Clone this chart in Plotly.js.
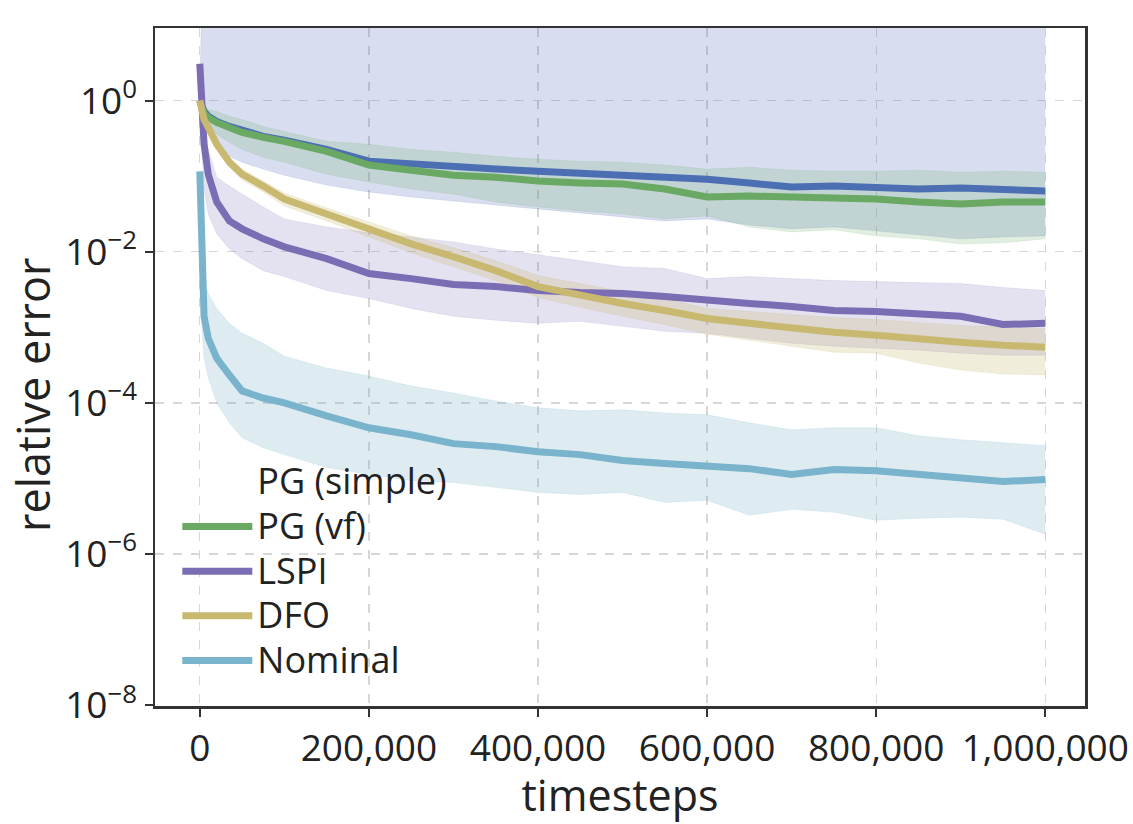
<!DOCTYPE html>
<html>
<head>
<meta charset="utf-8">
<script src="https://cdn.plot.ly/plotly-3.0.1.min.js"></script>
<style>
  html, body { margin: 0; padding: 0; background: #fff; }
  #chart { width: 1133px; height: 824px; }
</style>
</head>
<body>
<div id="chart"></div>
<script>
var steps = [0, 2500, 5000, 10000, 20000, 35000, 50000, 75000, 100000, 150000,
  200000, 250000, 300000, 350000, 400000, 450000, 500000, 550000, 600000, 650000,
  700000, 750000, 800000, 850000, 900000, 950000, 1000000];

// PG (simple)
var pgSimple = [1.0, 0.81, 0.72, 0.62, 0.53, 0.455, 0.40, 0.336, 0.298, 0.226,
  0.158, 0.144, 0.131, 0.124, 0.116, 0.109, 0.100, 0.094, 0.091, 0.081,
  0.0717, 0.0738, 0.0717, 0.0675, 0.0695, 0.0655, 0.0635];
var pgSimpleLo = [1.0, 0.598, 0.483, 0.357, 0.248, 0.183, 0.153, 0.124, 0.103, 0.0762,
  0.0616, 0.053, 0.0469, 0.0415, 0.0368, 0.0326, 0.0289, 0.0256, 0.0272, 0.0226,
  0.0201, 0.0213, 0.0189, 0.0167, 0.0148, 0.0157, 0.0162];
var pgSimpleHi = [1.0, 1000, 1000, 1000, 1000, 1000, 1000, 1000, 1000, 1000,
  1000, 1000, 1000, 1000, 1000, 1000, 1000, 1000, 1000, 1000,
  1000, 1000, 1000, 1000, 1000, 1000, 1000];

// PG (vf)
var pgVf = [1.0, 0.76, 0.675, 0.598, 0.514, 0.441, 0.379, 0.326, 0.289, 0.213,
  0.140, 0.120, 0.103, 0.097, 0.086, 0.081, 0.0785, 0.0675, 0.053, 0.0545,
  0.053, 0.0514, 0.0498, 0.0455, 0.0428, 0.0455, 0.0455];
var pgVfLo = [1.0, 0.717, 0.598, 0.483, 0.357, 0.280, 0.226, 0.178, 0.153, 0.106,
  0.0834, 0.0675, 0.058, 0.0455, 0.0391, 0.0346, 0.0316, 0.0272, 0.0298, 0.0213,
  0.0183, 0.0195, 0.0162, 0.0148, 0.0127, 0.0131, 0.0148];
var pgVfHi = [1.0, 0.94, 0.86, 0.76, 0.717, 0.62, 0.56, 0.455, 0.391, 0.289,
  0.264, 0.226, 0.207, 0.183, 0.167, 0.158, 0.153, 0.140, 0.124, 0.131,
  0.120, 0.116, 0.116, 0.120, 0.113, 0.116, 0.113];

// LSPI
var lspi = [3.07, 0.56, 0.264, 0.106, 0.0455, 0.0256, 0.0201, 0.0148, 0.0116, 0.0081,
  0.00514, 0.00441, 0.00368, 0.00346, 0.00307, 0.00289, 0.0028, 0.00256, 0.00226, 0.00207,
  0.00189, 0.00167, 0.00162, 0.00148, 0.0014, 0.00109, 0.00113];
var lspiLo = [3.07, 0.226, 0.0675, 0.0316, 0.0173, 0.0109, 0.0081, 0.00562, 0.00469, 0.00307,
  0.00241, 0.00178, 0.0014, 0.00124, 0.00113, 0.0012, 0.00103, 0.000886, 0.000834, 0.000716,
  0.000616, 0.000562, 0.00053, 0.000498, 0.000455, 0.000428, 0.000428];
var lspiHi = [3.07, 1.03, 0.56, 0.226, 0.097, 0.0738, 0.058, 0.0391, 0.0272, 0.0213,
  0.0178, 0.0157, 0.0135, 0.0109, 0.00914, 0.00762, 0.00635, 0.0060, 0.00441, 0.00469,
  0.00441, 0.00415, 0.00403, 0.00391, 0.00379, 0.00336, 0.00307];

// DFO
var dfo = [1.0, 0.717, 0.56, 0.441, 0.264, 0.153, 0.106, 0.0738, 0.0498, 0.0316,
  0.0201, 0.0127, 0.00859, 0.00562, 0.00346, 0.00264, 0.00207, 0.00167, 0.00131, 0.00113,
  0.00097, 0.000859, 0.000785, 0.000695, 0.000635, 0.00058, 0.000546];
var dfoLo = [1.0, 0.654, 0.498, 0.391, 0.226, 0.131, 0.0886, 0.0616, 0.0403, 0.0256,
  0.0157, 0.0097, 0.00635, 0.00415, 0.00248, 0.00184, 0.0014, 0.00109, 0.000809, 0.000674,
  0.000562, 0.000469, 0.000455, 0.000336, 0.000272, 0.000241, 0.000234];
var dfoHi = [1.0, 0.785, 0.62, 0.498, 0.298, 0.178, 0.124, 0.086, 0.0598, 0.0379,
  0.0248, 0.0162, 0.0113, 0.00762, 0.00483, 0.00379, 0.00298, 0.00241, 0.00178, 0.00162,
  0.00148, 0.00135, 0.00127, 0.00116, 0.00106, 0.001, 0.00097];

// Nominal
var nominal = [0.116, 0.00326, 0.0014, 0.000716, 0.00039, 0.000234, 0.000144, 0.000116, 1.0e-4, 6.74e-5,
  4.69e-5, 3.79e-5, 2.89e-5, 2.64e-5, 2.26e-5, 2.07e-5, 1.73e-5, 1.58e-5, 1.48e-5, 1.35e-5,
  1.13e-5, 1.31e-5, 1.27e-5, 1.13e-5, 9.7e-6, 9.1e-6, 9.7e-6];
var nominalLo = [0.116, 0.00097, 0.00039, 0.000213, 1.0e-4, 5.45e-5, 3.46e-5, 2.56e-5, 2.07e-5, 1.40e-5,
  1.13e-5, 9.4e-6, 8.86e-6, 7.6e-6, 6.55e-6, 6.15e-6, 6.55e-6, 4.83e-6, 5.14e-6, 3.26e-6,
  3.91e-6, 3.57e-6, 2.8e-6, 2.98e-6, 3.07e-6, 2.89e-6, 1.83e-6];
var nominalHi = [0.116, 0.0081, 0.00441, 0.0028, 0.00178, 0.00113, 0.000834, 0.000616, 0.000415, 0.000289,
  0.000227, 0.000167, 0.000135, 0.000106, 8.6e-5, 7.85e-5, 8.1e-5, 7.38e-5, 6.95e-5, 5.45e-5,
  4.41e-5, 4.69e-5, 4.69e-5, 3.68e-5, 3.26e-5, 2.98e-5, 2.72e-5];

var yTickVals = [1, 1e-2, 1e-4, 1e-6, 1e-8];
var yTickText = ['10<sup>0</sup>', '10<sup>\u22122</sup>', '10<sup>\u22124</sup>',
  '10<sup>\u22126</sup>', '10<sup>\u22128</sup>'];

var series = [
  {name: 'PG (simple)', y: pgSimple, lo: pgSimpleLo, hi: pgSimpleHi, color: '#4c6fb4', band: 'rgba(76,105,180,0.22)', legend: false},
  {name: 'PG (vf)', y: pgVf, lo: pgVfLo, hi: pgVfHi, color: '#69a964', band: 'rgba(106,170,100,0.2)', legend: true},
  {name: 'LSPI', y: lspi, lo: lspiLo, hi: lspiHi, color: '#7a6db3', band: 'rgba(122,109,179,0.2)', legend: true},
  {name: 'DFO', y: dfo, lo: dfoLo, hi: dfoHi, color: '#c8b870', band: 'rgba(200,184,112,0.25)', legend: true},
  {name: 'Nominal', y: nominal, lo: nominalLo, hi: nominalHi, color: '#7ab3cc', band: 'rgba(122,179,204,0.25)', legend: true}
];

// legend labels drawn a bit larger than the row spacing would allow
function big(t) { return '<span style="font-size:36px">' + t + '</span>'; }

var traces = [];
// shaded bands first
series.forEach(function(s) {
  traces.push({x: steps, y: s.lo, mode: 'lines', line: {width: 0.6, color: s.band},
    showlegend: false, hoverinfo: 'skip'});
  traces.push({x: steps, y: s.hi, mode: 'lines', line: {width: 0.6, color: s.band},
    fill: 'tonexty', fillcolor: s.band, showlegend: false, hoverinfo: 'skip'});
});
// legend entry for PG (simple) shows no line sample
traces.push({x: [null], y: [null], mode: 'lines', name: big('PG (simple)'),
  line: {width: 7, color: 'rgba(0,0,0,0)'}});
series.forEach(function(s) {
  traces.push({x: steps, y: s.y, mode: 'lines', name: big(s.name),
    line: {width: 7, color: s.color}, showlegend: s.legend});
});

var fam = 'Open Sans, DejaVu Sans, sans-serif';
var ink = '#222';

var layout = {
  width: 1133, height: 824,
  margin: {l: 155, r: 48, t: 28, b: 118},
  paper_bgcolor: '#fff', plot_bgcolor: '#fff',
  font: {family: fam, size: 36, color: ink},
  showlegend: true,
  legend: {x: 0.024, y: 0.027, xanchor: 'left', yanchor: 'bottom', bgcolor: 'rgba(0,0,0,0)',
    traceorder: 'normal', font: {family: fam, size: 32, color: ink},
    itemwidth: 70, tracegroupgap: 0},
  xaxis: {
    range: [-53000, 1047000], tick0: 0, dtick: 200000, tickformat: ',d',
    showline: true, mirror: true, linewidth: 2.5, linecolor: '#333',
    ticks: 'outside', ticklen: 8, tickwidth: 2, tickcolor: '#333',
    showgrid: true, gridcolor: '#d6d6d6', griddash: 'dash', gridwidth: 1.3,
    zeroline: false,
    tickfont: {family: fam, size: 37, color: ink},
    title: {text: 'timesteps', font: {family: fam, size: 43, color: ink}, standoff: 0}
  },
  yaxis: {
    type: 'log', range: [-8.01, 0.96],
    tickvals: yTickVals, ticktext: yTickText,
    showline: true, mirror: true, linewidth: 2.5, linecolor: '#333',
    ticks: 'outside', ticklen: 8, tickwidth: 2, tickcolor: '#333',
    showgrid: true, gridcolor: '#d6d6d6', griddash: 'dash', gridwidth: 1.3,
    zeroline: false,
    tickfont: {family: fam, size: 37, color: ink}
  },
  annotations: [{
    text: 'relative error', xref: 'paper', yref: 'paper',
    x: -0.131, y: 0.459, xanchor: 'center', yanchor: 'middle',
    textangle: -90, showarrow: false,
    font: {family: fam, size: 45, color: ink}
  }]
};

Plotly.newPlot('chart', traces, layout, {staticPlot: true, displayModeBar: false});
</script>
</body>
</html>
